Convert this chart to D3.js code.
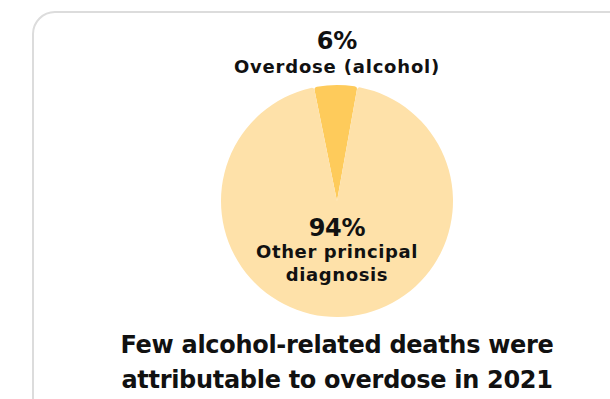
<!DOCTYPE html>
<html>
<head>
<meta charset="utf-8">
<script src="https://cdn.jsdelivr.net/npm/d3@7"></script>
<style>
  html, body { margin: 0; padding: 0; background: #fff; }
  svg { display: block; }
  text { font-family: "DejaVu Sans", sans-serif; font-weight: bold; fill: #111; }
</style>
</head>
<body>
<svg id="chart" width="610" height="399"></svg>
<script>
// Share of alcohol-related deaths by principal diagnosis, 2021
const categories = ["Overdose (alcohol)", "Other principal diagnosis"];
const shares = [6, 94];
const sliceColors = ["#FECB5B", "#FEE1A9"];
const titleLines = ["Few alcohol-related deaths were", "attributable to overdose in 2021"];

const svg = d3.select("#chart");

// Card outline
svg.append("rect")
  .attr("x", 33).attr("y", 12)
  .attr("width", 620).attr("height", 420)
  .attr("rx", 22).attr("ry", 22)
  .attr("fill", "#fff")
  .attr("stroke", "#dcdcdc")
  .attr("stroke-width", 2);

const cx = 337, cy = 201, r = 116;

const data = categories.map((c, i) => ({ category: c, value: shares[i], color: sliceColors[i] }));

const pie = d3.pie()
  .value(d => d.value)
  .sort(null)
  .startAngle(-0.2)
  .endAngle(-0.2 + 2 * Math.PI);

const arc = d3.arc().innerRadius(0).outerRadius(r).cornerRadius(3);

const g = svg.append("g").attr("transform", `translate(${cx},${cy})`);
g.selectAll("path")
  .data(pie(data))
  .join("path")
  .attr("d", arc)
  .attr("fill", d => d.data.color);

function label(text, y, size, spacing) {
  svg.append("text")
    .attr("x", cx).attr("y", y)
    .attr("text-anchor", "middle")
    .style("font-size", size + "px")
    .style("letter-spacing", spacing + "px")
    .text(text);
}

// Small slice: value and name above the pie
label(shares[0] + "%", 49, 24, 0);
label(categories[0], 73, 18, 0.8);

// Large slice: value and name inside the pie
label(shares[1] + "%", 236, 24, -0.3);
["Other principal", "diagnosis"].forEach((t, i) => label(t, 258 + i * 23, 18, 0.6));

// Title below
titleLines.forEach((t, i) => label(t, 353 + i * 35, 24, -0.3));
</script>
</body>
</html>
